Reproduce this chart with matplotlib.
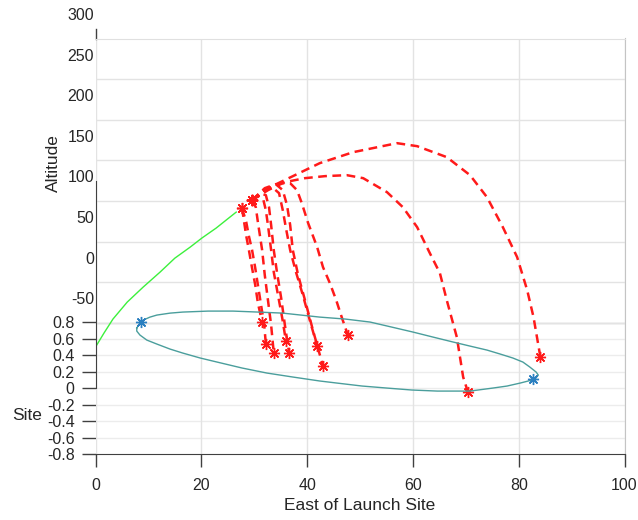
import matplotlib
matplotlib.use("Agg")
import matplotlib.pyplot as plt
import numpy as np
from matplotlib.transforms import ScaledTranslation

plt.rcParams['font.family'] = ['Liberation Sans', 'DejaVu Sans']
plt.rcParams['axes.unicode_minus'] = False

TEXT = '#262626'
AXIS = '#404040'

# Powered ascent (east distance, projected height in altitude units)
ascent_x = [0.0, 1.6, 3.3, 6.0, 9.0, 12.2, 15.0, 17.9, 20.1, 22.8, 25.4, 26.6]
ascent_h = [-80.0, -62.8, -45.5, -24.6, -6.2, 12.3, 29.5, 43.1, 54.2, 66.5, 80.0, 86.2]

# Debris tracks after breakup, one list per fragment
debris_x = [
    [27.7, 28.1, 28.5, 29.0, 29.6, 30.2, 30.7, 31.5],
    [27.7, 28.5, 29.0, 29.6, 30.2, 30.7, 31.3, 31.9, 32.2],
    [29.6, 30.3, 30.7, 31.1, 31.5, 32.0, 32.6, 33.2, 33.7],
    [29.6, 30.7, 31.7, 32.2, 32.6, 33.2, 33.7, 34.5, 35.3, 36.0],
    [29.6, 31.1, 32.2, 32.8, 33.2, 33.7, 34.3, 35.1, 35.8, 36.6],
    [29.6, 31.5, 33.4, 34.7, 35.4, 36.0, 36.8, 37.9, 39.2, 40.5, 41.9],
    [29.6, 32.0, 34.1, 35.4, 36.2, 36.8, 37.3, 38.3, 39.6, 41.1, 43.0],
    [29.6, 32.0, 34.9, 36.8, 38.1, 39.0, 40.2, 41.9, 43.0, 44.3, 45.5, 46.6, 47.7],
    [29.6, 32.6, 35.8, 39.6, 43.4, 47.5, 50.6, 55.1, 58.1, 60.8, 63.2, 65.1, 66.4, 68.3,
     69.5, 70.4],
    [29.6, 33.4, 37.7, 42.4, 48.7, 57.0, 60.8, 66.4, 70.8, 74.0, 77.0, 79.7, 81.6, 82.8,
     84.1],
]
debris_h = [
    [91.1, 73.8, 56.6, 39.4, 17.2, -3.7, -25.8, -49.2],
    [91.1, 73.8, 56.6, 39.4, 17.2, -3.7, -28.3, -52.9, -76.3],
    [100.9, 92.3, 73.8, 56.6, 39.4, 8.6, -22.2, -52.9, -87.4],
    [100.9, 105.8, 102.2, 88.6, 70.2, 39.4, 12.3, -16.0, -44.3, -72.6],
    [100.9, 109.5, 107.1, 92.3, 70.2, 39.4, 12.3, -19.7, -52.9, -87.4],
    [100.9, 112.0, 116.9, 109.5, 88.6, 66.5, 39.4, 12.3, -16.0, -46.8, -78.8],
    [100.9, 115.7, 120.6, 113.2, 94.8, 70.2, 39.4, 8.6, -22.2, -59.1, -103.4],
    [100.9, 113.2, 121.8, 121.8, 113.2, 97.2, 72.6, 43.1, 18.5, -1.2, -22.2, -44.3, -65.2],
    [100.9, 113.2, 123.1, 128.0, 130.5, 131.7, 128.0, 110.8, 92.3, 67.7, 35.7, 11.1, -22.2,
     -67.7, -116.9, -135.4],
    [100.9, 118.2, 131.7, 146.5, 160.0, 171.1, 167.4, 153.9, 131.7, 104.6, 67.7, 30.8, -9.8,
     -43.1, -92.3],
]

# Impact dispersion ellipse on the ground
ellipse_x = [7.8, 8.6, 10.3, 11.6, 14.1, 16.5, 21.3, 26.0, 30.7, 35.4, 42.4, 47.2, 51.9,
             56.0, 60.0, 63.8, 67.6, 70.8, 74.0, 76.5, 78.9, 80.8, 82.1, 83.3, 83.7, 83.1,
             81.8, 80.3, 77.8, 75.1, 70.8, 64.6, 59.8, 55.1, 50.4, 45.6, 42.4, 37.3, 32.4,
             27.7, 23.0, 19.8, 16.5, 14.1, 11.6, 9.7, 8.4, 7.8, 7.8]
ellipse_h = [-56.6, -48.0, -43.1, -40.6, -38.2, -36.9, -35.7, -35.7, -36.9, -38.2, -43.1,
             -45.5, -49.2, -55.4, -61.5, -67.7, -73.8, -78.8, -83.7, -88.6, -93.5, -98.5,
             -104.6, -110.8, -114.5, -119.4, -121.8, -124.3, -128.0, -130.5, -134.2,
             -134.2, -132.9, -130.5, -128.0, -124.3, -121.8, -116.9, -112.0, -105.8, -98.5,
             -93.5, -87.4, -82.5, -76.3, -71.4, -65.2, -60.3, -56.6]

# Ellipse axis end points
axis_x = [8.6, 82.7]
axis_h = [-49.2, -119.4]

alt_ticks = [-50, 0, 50, 100, 150, 200, 250, 300]
site_ticks = [-0.8, -0.6, -0.4, -0.2, 0.0, 0.2, 0.4, 0.6, 0.8]
site_labels = ['-0.8', '-0.6', '-0.4', '-0.2', '0', '0.2', '0.4', '0.6', '0.8']
x_ticks = [0, 20, 40, 60, 80, 100]


def site_to_h(s):
    return -130.46 + 101.54 * np.asarray(s)


def h_to_site(h):
    return (np.asarray(h) + 130.46) / 101.54


fig = plt.figure(figsize=(6.38, 5.20), dpi=100)
ax = fig.add_axes([95.5 / 638, 66 / 520, 529 / 638, 415.5 / 520])
ax.set_xlim(0, 100)
ax.set_ylim(site_to_h(-0.8), 300)

# grid: altitude lines on the back wall, site lines on the floor
ax.set_xticks(x_ticks)
ax.set_yticks(alt_ticks)
ax.grid(True, color='#e3e3e3', lw=1)
ax.set_axisbelow(True)
for s in site_ticks[1:-1]:
    ax.axhline(site_to_h(s), color='#ececec', lw=1, zorder=0)
ax.axhline(-50, color='#c8c8c8', lw=1, zorder=0.5)

ax.plot(ascent_x, ascent_h, color='#3cf03c', lw=1)
for xs, hs in zip(debris_x, debris_h):
    ax.plot(xs, hs, color='#ff1a1a', lw=1.8, ls=(0, (3.5, 2.2)),
            marker=(8, 2, 0), markevery=[0, len(xs) - 1], ms=8, mew=1)
ax.plot(ellipse_x, ellipse_h, color='#4a9e9c', lw=1)
ax.plot(axis_x, axis_h, ls='none', marker=(8, 2, 0), ms=8, mew=1, color='#2a7fc0')

# spines
ax.spines['left'].set_color(AXIS)
ax.spines['left'].set_bounds(site_to_h(0.0), 125)
ax.spines['bottom'].set_color(AXIS)
ax.spines['top'].set_color('#e0e0e0')
ax.spines['right'].set_color('#c4c4c4')
ax.axvline(0, ymin=1.0, ymax=1.022, color=AXIS, lw=1, clip_on=False)

ax.tick_params(axis='x', direction='out', length=9, width=1, color=AXIS,
               pad=8, labelsize=11.5, labelcolor=TEXT)
ax.tick_params(axis='y', length=0, pad=1, labelsize=11.5, labelcolor=TEXT)
# altitude labels sit a little above their grid lines
shift = ScaledTranslation(0, 24.5 / 100, fig.dpi_scale_trans)
for lab in ax.get_yticklabels():
    lab.set_transform(lab.get_transform() + shift)

sec = ax.secondary_yaxis('left', functions=(h_to_site, site_to_h))
sec.set_yticks(site_ticks)
sec.set_yticklabels(site_labels)
sec.spines['left'].set_visible(False)
sec.tick_params(direction='out', length=10, width=1, color=AXIS, pad=5,
                labelsize=11.5, labelcolor=TEXT)

fig.text(53 / 638, 1 - 163 / 520, 'Altitude', rotation=90, ha='center', va='center',
         fontsize=12.5, color=TEXT)
fig.text(27 / 638, 1 - 416 / 520, 'Site', ha='center', va='center',
         fontsize=12.5, color=TEXT)
fig.text(360 / 638, 1 - 505 / 520, 'East of Launch Site', ha='center', va='center',
         fontsize=12.5, color=TEXT)

fig.savefig('out.png', dpi=100)
